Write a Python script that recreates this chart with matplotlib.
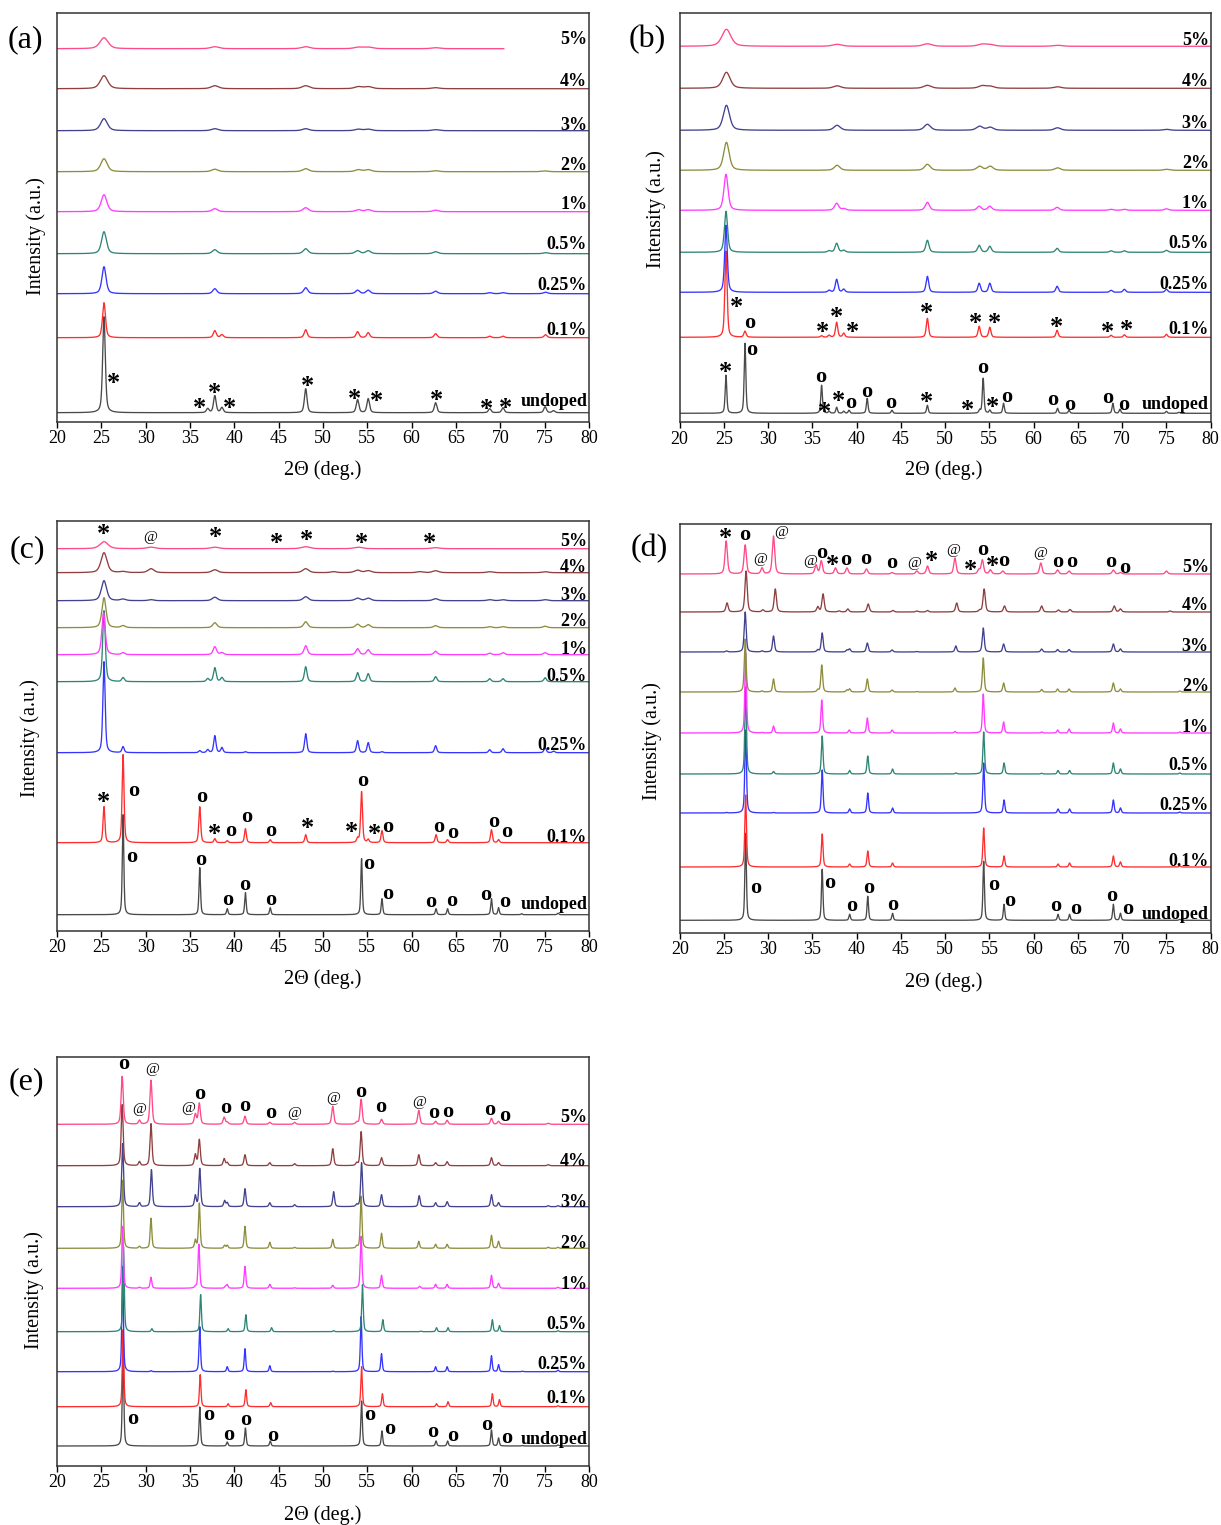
import numpy as np
import matplotlib
matplotlib.use('Agg')
import matplotlib.pyplot as plt

plt.rcParams['font.family'] = ['Liberation Serif', 'DejaVu Serif']

W, H = 1221, 1525

SERIES = ['undoped', '0.1%', '0.25%', '0.5%', '1%', '2%', '3%', '4%', '5%']
COLORS = ['#4a4a4a', '#ff2d2d', '#3535ff', '#2e8576', '#ff3cff',
          '#8d8d3e', '#42428e', '#8e4040', '#ff4a86']

# ---------------- panel (a) ----------------
A_OFFSET = [9, 84, 128, 168, 210, 250, 291, 333, 373]
A_LABEL_Y = [21.7, 93, 138, 179, 219, 258, 298, 342, 384]
A_FWHM = [0.35, 0.4, 0.55, 0.65, 0.75, 0.85, 0.9, 1.0, 1.1]
A_5_XMAX = 70.4
A_UNDOPED = [(25.3, 96), (37.0, 4), (37.8, 17), (38.6, 5), (48.05, 24), (53.9, 13), (55.1, 14),
             (62.7, 10), (68.8, 4), (70.3, 5), (75.05, 6), (76.0, 2)]
A_P01 = [(25.3, 35), (37.8, 7), (38.6, 3), (48.05, 8), (53.9, 6), (55.1, 5), (62.7, 4),
         (68.8, 1.5), (70.3, 1.5), (75.1, 3)]
A_P025 = [(25.3, 27), (37.8, 5), (48.05, 6), (53.9, 3.5), (55.1, 3.5), (62.7, 2.5),
          (68.8, 1), (70.3, 1), (75.1, 1.5)]
A_P05 = [(25.3, 22), (37.8, 4), (48.05, 5), (53.9, 3), (55.1, 3), (62.7, 2), (75.1, 1)]
A_P1 = [(25.3, 17), (37.8, 3), (48.05, 4), (54.0, 2), (55.1, 2), (62.7, 1.5)]
A_P2 = [(25.3, 13), (37.8, 2.5), (48.05, 3), (54.0, 2), (55.1, 2), (62.7, 1), (75.0, 0.8)]
A_P3 = [(25.3, 12), (37.8, 2), (48.05, 2), (54.0, 1.5), (55.1, 1.5), (62.7, 1)]
A_P4 = [(25.3, 13), (37.8, 3), (48.05, 3), (54.0, 2), (55.1, 2), (62.7, 1)]
A_P5 = [(25.3, 11), (37.8, 2), (48.05, 2), (54.0, 1.5), (55.1, 1.5), (62.7, 1)]
A_MARKS = [('*', 26.4, 43.3), ('*', 36.1, 18.3), ('*', 37.8, 33.3), ('*', 39.5, 18.3),
           ('*', 48.2, 41), ('*', 53.5, 27.3), ('*', 56.0, 25.7), ('*', 62.8, 26.7),
           ('*', 68.4, 17.7), ('*', 70.6, 19)]

# ---------------- panel (b) ----------------
B_OFFSET = [9, 85, 130, 170, 212, 252, 292, 334, 376]
B_LABEL_Y = [19, 94, 139, 180, 220, 260, 300, 342, 383]
B_FWHM = [0.22, 0.3, 0.35, 0.42, 0.55, 0.75, 0.85, 1.0, 1.2]
B_UNDOPED = [(25.25, 38), (27.4, 70), (36.05, 28), (36.9, 2), (37.75, 6), (38.55, 2), (39.15, 3),
             (41.2, 15), (44.0, 3), (48.0, 8), (53.9, 3), (54.3, 35), (55.05, 3), (56.6, 10),
             (62.7, 5), (64.0, 3), (68.95, 10), (69.75, 4), (75.0, 2), (76.4, 1)]
B_P01 = [(25.25, 86), (27.4, 6), (36.05, 1.5), (36.9, 2), (37.75, 15), (38.55, 4), (48.0, 19),
         (53.85, 11), (55.05, 10), (62.65, 7), (68.75, 2), (70.25, 2.5), (75.0, 3)]
B_P025 = [(25.25, 67), (36.9, 2), (37.75, 13), (38.55, 3), (48.0, 16), (53.85, 9), (55.05, 9),
          (62.65, 6), (68.75, 2), (70.25, 3), (75.0, 3)]
B_P05 = [(25.25, 41), (36.9, 1.5), (37.75, 9), (38.55, 2), (48.0, 12), (53.85, 7), (55.05, 6),
         (62.65, 4), (68.75, 1.5), (70.25, 1.5), (75.0, 2)]
B_P1 = [(25.25, 36), (37.75, 7), (38.55, 1.5), (48.0, 8), (53.85, 4), (55.05, 4), (62.65, 3),
        (68.75, 1), (70.25, 1), (75.0, 1.5)]
B_P2 = [(25.3, 28), (37.8, 5), (48.0, 6), (53.9, 4), (55.1, 4), (62.7, 2.5), (75.0, 1)]
B_P3 = [(25.3, 25), (37.8, 5), (48.0, 6), (53.9, 4), (55.1, 3), (62.7, 2.5), (75.0, 1)]
B_P4 = [(25.3, 16), (37.8, 2.5), (48.0, 3), (54.2, 2.5), (55.1, 2), (62.7, 1.5)]
B_P5 = [(25.3, 17), (37.8, 2), (48.0, 2.5), (54.2, 2), (55.1, 1.5), (62.7, 1)]
B_MARKS = [('*', 25.2, 55.7), ('o', 28.1, 72.3), ('o', 35.9, 45.7), ('*', 36.4, 15.7),
           ('*', 38.0, 26.7), ('o', 39.35, 19), ('o', 41.1, 30.7), ('o', 43.9, 19),
           ('*', 47.9, 25.7), ('*', 52.5, 17.3), ('o', 54.3, 54), ('*', 55.4, 20.7),
           ('o', 56.9, 25.7), ('o', 62.2, 22.3), ('o', 64.1, 17.3), ('o', 68.4, 24),
           ('o', 70.2, 17.3),
           ('*', 26.4, 120.7), ('o', 27.9, 99), ('*', 36.1, 95.7), ('*', 37.7, 110.7),
           ('*', 39.5, 95.7), ('*', 47.9, 114), ('*', 53.4, 104), ('*', 55.6, 104),
           ('*', 62.6, 100.7), ('*', 68.3, 95.7), ('*', 70.5, 97.3)]

# ---------------- panel (c) ----------------
C_OFFSET = [16, 88, 178, 249, 276, 303, 330, 358, 382]
C_LABEL_Y = [28, 95, 187, 256, 283, 311, 337, 365, 391]
C_FWHM = [0.2, 0.25, 0.3, 0.35, 0.45, 0.55, 0.7, 0.8, 1.1]
C_UNDOPED = [(27.45, 100), (36.1, 47), (39.2, 6), (41.25, 22), (44.05, 7), (54.35, 56), (56.65, 16),
             (62.75, 6), (64.05, 6), (69.0, 16), (69.8, 7), (72.4, 1), (76.5, 1.5)]
C_P01 = [(25.3, 36), (27.45, 88), (36.1, 36), (37.8, 4), (39.2, 2), (41.25, 14), (44.05, 3),
         (48.05, 8), (53.9, 4), (54.35, 51), (55.1, 3), (56.65, 12), (62.75, 8), (64.05, 3),
         (69.0, 13), (69.8, 3)]
C_P025 = [(25.3, 91), (27.45, 6), (36.1, 2), (37.0, 3), (37.8, 17), (38.6, 5), (41.25, 1),
          (48.05, 19), (53.9, 12), (55.1, 10), (56.65, 1), (62.7, 7), (68.8, 3), (70.3, 4),
          (75.05, 5), (76.0, 1.5)]
C_P05 = [(25.3, 71), (27.45, 4), (37.0, 3), (37.8, 14), (38.6, 4), (48.05, 15), (53.9, 9),
         (55.1, 8), (62.7, 5), (68.8, 3), (70.3, 3), (75.05, 4)]
C_P1 = [(25.25, 42), (27.45, 2), (37.8, 8), (38.6, 2), (48.05, 9), (53.9, 6), (55.1, 5),
        (62.7, 3.5), (68.8, 1.5), (70.3, 2), (75.05, 2)]
C_P2 = [(25.3, 30), (27.45, 2), (37.8, 5), (48.05, 6), (53.9, 3.5), (55.1, 3), (62.7, 2),
        (68.8, 1), (70.3, 1), (75.05, 1.5)]
C_P3 = [(25.3, 20), (27.45, 1.5), (30.6, 1), (37.8, 3.5), (48.05, 4), (53.9, 2.5), (55.1, 2.5),
        (62.7, 2), (68.8, 1), (70.3, 1), (75.05, 1)]
C_P4 = [(25.3, 20), (27.45, 1), (30.6, 4), (37.8, 3), (48.05, 4), (51.2, 1), (53.9, 2.5),
        (55.1, 2), (60.9, 1), (62.7, 2), (68.8, 1), (75.05, 1)]
C_P5 = [(25.3, 7), (30.6, 1.5), (37.8, 1.5), (48.05, 2), (54.0, 1.5), (62.7, 1)]
C_MARKS = [('*', 25.2, 401.7), ('@', 30.5, 393.3), ('*', 37.9, 398.3), ('*', 44.8, 392.7),
           ('*', 48.1, 396), ('*', 54.3, 392.7), ('*', 62.0, 392.7),
           ('*', 25.3, 133.3), ('o', 28.6, 140), ('o', 36.3, 134), ('*', 37.8, 101.7),
           ('o', 39.6, 100), ('o', 41.4, 113.3), ('o', 44.1, 100), ('*', 48.2, 107.3),
           ('*', 53.2, 103.3), ('o', 54.5, 150), ('*', 55.8, 101.7), ('o', 57.3, 104),
           ('o', 63.0, 104), ('o', 64.6, 97.3), ('o', 69.3, 108.3), ('o', 70.7, 98.3),
           ('o', 28.4, 74), ('o', 36.2, 70.7), ('o', 39.3, 30.7), ('o', 41.2, 46),
           ('o', 44.1, 30.7), ('o', 55.1, 66.7), ('o', 57.3, 36.7), ('o', 62.2, 28.3),
           ('o', 64.5, 30), ('o', 68.3, 36), ('o', 70.5, 28.3)]

# ---------------- panel (d) ----------------
D_OFFSET = [12.7, 66, 120, 159, 200, 241, 281, 321, 359]
D_LABEL_Y = [20, 73, 129, 169, 207, 248, 288, 329, 367]
D_FWHM = [0.2, 0.22, 0.22, 0.22, 0.22, 0.24, 0.26, 0.3, 0.32]
D_UNDOPED = [(27.45, 87), (36.1, 51), (39.2, 6), (41.25, 24), (44.05, 7), (54.35, 59), (56.65, 16),
             (62.75, 6), (64.05, 6), (69.0, 16), (69.8, 7), (76.5, 1)]
D_P01 = [(27.45, 72), (36.1, 33), (39.2, 3), (41.25, 16), (44.05, 4), (54.35, 39), (56.65, 11),
         (62.75, 3), (64.05, 4), (69.0, 11), (69.8, 5), (76.5, 1)]
D_P025 = [(25.3, 0.5), (27.45, 83), (30.6, 0.5), (36.1, 43), (39.2, 4), (41.25, 20), (44.05, 5),
          (54.35, 50), (56.65, 13), (62.75, 4), (64.05, 4), (69.0, 13), (69.8, 5), (76.5, 1)]
D_P05 = [(27.45, 87), (30.6, 2.5), (36.1, 38), (39.2, 3.5), (41.25, 18), (44.05, 5), (51.2, 1),
         (54.35, 42), (56.65, 11), (60.9, 0.7), (62.75, 3.5), (64.05, 3.5), (69.0, 11), (69.8, 5),
         (76.5, 1)]
D_P1 = [(27.45, 80), (29.3, 0.5), (30.6, 7), (36.05, 33), (39.15, 3), (41.2, 15), (44.0, 3),
        (51.1, 1.5), (54.3, 39), (56.6, 11), (60.9, 1), (62.7, 3), (64.0, 4), (69.0, 10),
        (69.8, 4), (76.5, 1)]
D_P2 = [(27.4, 53), (29.3, 1), (30.6, 13), (35.6, 2), (36.05, 27), (38.9, 2), (39.2, 3),
        (41.2, 13), (44.0, 2), (46.8, 0.5), (51.1, 4), (54.3, 34), (56.6, 9), (60.9, 2.5),
        (62.7, 3), (64.0, 3), (69.0, 9), (69.8, 3), (76.5, 1)]
D_P3 = [(25.3, 1), (27.4, 40), (29.3, 1), (30.6, 16), (35.6, 2), (36.1, 19), (38.9, 2), (39.2, 3),
        (41.2, 9), (44.0, 2), (46.8, 0.5), (51.2, 6), (54.3, 24), (56.6, 8), (60.9, 3),
        (62.7, 2.5), (64.0, 2.5), (69.0, 8), (69.8, 3)]
D_P4 = [(25.35, 9), (27.5, 41), (29.4, 2), (30.8, 23), (35.6, 5), (36.2, 18), (38.0, 1), (39.0, 3),
        (41.3, 8), (44.1, 1.5), (46.8, 1), (48.0, 1.5), (51.3, 9), (53.9, 1.5), (54.4, 23),
        (56.7, 6), (60.9, 6), (62.8, 2), (64.1, 2.5), (69.1, 6), (69.8, 3), (75.4, 1)]
D_P5 = [(25.25, 33), (27.4, 29), (29.3, 6), (30.6, 38), (35.4, 9), (36.0, 13), (37.6, 6),
        (38.9, 6), (41.1, 5), (44.0, 1.5), (46.8, 3), (48.0, 8), (51.1, 16), (53.8, 4),
        (54.2, 14), (55.1, 4), (56.5, 3), (60.8, 11), (62.7, 4), (64.0, 3), (69.0, 4),
        (69.8, 1.5), (75.0, 3)]
D_MARKS = [('*', 25.2, 400), ('o', 27.3, 398.3), ('@', 31.5, 400.7), ('@', 29.1, 374),
           ('@', 34.7, 371.7), ('o', 36.1, 380), ('*', 37.3, 373.3), ('o', 38.8, 373.3),
           ('o', 41.0, 374), ('o', 44.0, 370), ('@', 46.5, 370), ('*', 48.4, 376.7),
           ('@', 50.9, 383.3), ('*', 52.9, 368.3), ('o', 54.2, 383.3), ('*', 55.3, 371.7),
           ('o', 56.6, 371.7), ('@', 60.7, 380), ('o', 62.7, 370.7), ('o', 64.3, 370.7),
           ('o', 68.7, 370.7), ('o', 70.3, 365),
           ('o', 28.6, 45), ('o', 37.0, 50), ('o', 39.4, 27.3), ('o', 41.3, 45),
           ('o', 44.1, 28.3), ('o', 55.5, 48.3), ('o', 57.3, 32.3), ('o', 62.5, 27.3),
           ('o', 64.8, 24), ('o', 68.8, 37.3), ('o', 70.6, 24)]

# ---------------- panel (e) ----------------
E_OFFSET = [20, 59.3, 94.3, 134.3, 177.7, 217.7, 259.3, 300.3, 341.7]
E_LABEL_Y = [28.3, 69.3, 102.7, 143.3, 183.3, 224.3, 265.3, 306, 350]
E_FWHM = [0.2, 0.2, 0.2, 0.2, 0.22, 0.22, 0.24, 0.26, 0.28]
E_UNDOPED = [(27.45, 96), (36.1, 39), (39.2, 4), (41.25, 18), (44.05, 5), (54.35, 45), (56.65, 15),
             (62.75, 5), (64.05, 5), (69.0, 16), (69.8, 8), (72.5, 0.5), (76.5, 1)]
E_P01 = [(27.45, 77), (36.15, 32), (39.3, 3), (41.3, 17), (44.1, 4), (54.35, 40), (56.7, 13),
         (62.8, 3), (64.1, 5), (69.1, 13), (69.9, 7), (76.5, 1)]
E_P025 = [(27.4, 105), (30.6, 1), (36.1, 45), (39.2, 5), (41.2, 23), (44.0, 6), (51.1, 0.5),
          (54.3, 55), (56.6, 18), (62.7, 5), (64.0, 5), (69.0, 16), (69.8, 7), (72.5, 0.5),
          (76.5, 1.5)]
E_P05 = [(27.5, 85), (30.7, 3), (36.2, 37), (39.3, 3), (41.3, 17), (44.2, 4), (51.2, 1),
         (54.45, 47), (56.75, 12), (61.0, 0.5), (62.8, 4), (64.1, 4), (69.1, 12), (69.9, 6),
         (76.5, 1)]
E_P1 = [(27.4, 62), (29.3, 1), (30.6, 11), (35.6, 1.5), (36.0, 44), (39.0, 2), (39.2, 3.5),
        (41.2, 22), (44.0, 4), (46.8, 0.5), (51.1, 3), (54.3, 52), (56.6, 13), (60.9, 2),
        (62.7, 4), (64.0, 4), (69.0, 13), (69.8, 5), (76.5, 1)]
E_P2 = [(27.4, 68), (29.3, 2), (30.6, 30), (35.6, 8), (36.05, 45), (38.9, 3), (39.2, 3),
        (41.2, 22), (44.0, 6), (46.8, 1), (51.1, 9), (53.8, 2), (54.3, 52), (56.6, 15),
        (60.8, 7), (62.7, 4), (64.0, 4), (69.0, 13), (69.8, 7), (75.4, 1), (76.5, 1)]
E_P3 = [(27.4, 63), (29.3, 4), (30.65, 37), (35.6, 11), (36.1, 38), (38.9, 6), (39.2, 4),
        (41.2, 18), (44.0, 4), (46.8, 2), (51.2, 15), (53.8, 2), (54.35, 44), (56.6, 12),
        (60.85, 11), (62.7, 4), (64.0, 5), (69.0, 12), (69.8, 4), (75.4, 1), (76.5, 1)]
E_P4 = [(27.35, 61), (29.3, 4), (30.6, 42), (35.6, 11), (36.05, 26), (38.85, 7), (39.2, 3),
        (41.2, 11), (44.0, 3), (46.8, 2), (51.1, 17), (53.8, 2.5), (54.3, 34), (56.6, 8),
        (60.8, 11), (62.7, 3), (64.0, 4), (69.0, 8), (69.8, 3), (75.4, 1)]
E_P5 = [(27.35, 48), (29.3, 4), (30.6, 44), (35.6, 10), (36.05, 21), (38.85, 7), (39.2, 2),
        (41.2, 8), (44.0, 2), (46.8, 2), (51.1, 18), (53.8, 2), (54.3, 25), (56.6, 5),
        (60.8, 14), (62.7, 3), (64.0, 4), (69.0, 6), (69.8, 3), (75.4, 1)]
E_MARKS = [('o', 27.5, 402), ('@', 30.7, 396.7), ('@', 29.3, 356.7), ('@', 34.8, 357.7),
           ('o', 36.1, 372), ('o', 39.0, 357.7), ('o', 41.2, 360), ('o', 44.1, 352.7),
           ('@', 46.8, 352.7), ('@', 51.1, 367.7), ('o', 54.3, 374.3), ('o', 56.5, 359.3),
           ('@', 60.8, 364.3), ('o', 62.5, 353.3), ('o', 64.1, 354.3), ('o', 68.8, 356),
           ('o', 70.5, 350),
           ('o', 28.5, 46.7), ('o', 37.1, 51), ('o', 39.4, 31), ('o', 41.3, 46),
           ('o', 44.3, 30.3), ('o', 55.3, 51), ('o', 57.5, 36.7), ('o', 62.4, 33.7),
           ('o', 64.6, 30.3), ('o', 68.5, 41), ('o', 70.7, 28.3)]

X_TICKS = [20, 25, 30, 35, 40, 45, 50, 55, 60, 65, 70, 75, 80]

# panel boxes in pixels: left, right, top, bottom
PANELS = [
    dict(tag='(a)', box=(57, 589, 12.7, 421.7), tagpos=(25, 40), ylab=(36, 236), xlab=(323, 470),
         off=A_OFFSET, laby=A_LABEL_Y, fwhm=A_FWHM, marks=A_MARKS,
         peaks=[A_UNDOPED, A_P01, A_P025, A_P05, A_P1, A_P2, A_P3, A_P4, A_P5],
         xmax=[80] * 8 + [A_5_XMAX]),
    dict(tag='(b)', box=(679.5, 1210.7, 12.7, 422.3), tagpos=(647, 40), ylab=(656, 209), xlab=(944, 470),
         off=B_OFFSET, laby=B_LABEL_Y, fwhm=B_FWHM, marks=B_MARKS,
         peaks=[B_UNDOPED, B_P01, B_P025, B_P05, B_P1, B_P2, B_P3, B_P4, B_P5], xmax=[80] * 9),
    dict(tag='(c)', box=(57, 589, 520.7, 930.7), tagpos=(27, 550), ylab=(30, 738), xlab=(323, 979),
         off=C_OFFSET, laby=C_LABEL_Y, fwhm=C_FWHM, marks=C_MARKS,
         peaks=[C_UNDOPED, C_P01, C_P025, C_P05, C_P1, C_P2, C_P3, C_P4, C_P5], xmax=[80] * 9),
    dict(tag='(d)', box=(679.7, 1210.7, 524.3, 933), tagpos=(649, 549), ylab=(652, 741), xlab=(944, 982),
         off=D_OFFSET, laby=D_LABEL_Y, fwhm=D_FWHM, marks=D_MARKS,
         peaks=[D_UNDOPED, D_P01, D_P025, D_P05, D_P1, D_P2, D_P3, D_P4, D_P5], xmax=[80] * 9),
    dict(tag='(e)', box=(57, 589, 1056.7, 1466), tagpos=(26, 1082), ylab=(34, 1290), xlab=(323, 1515),
         off=E_OFFSET, laby=E_LABEL_Y, fwhm=E_FWHM, marks=E_MARKS,
         peaks=[E_UNDOPED, E_P01, E_P025, E_P05, E_P1, E_P2, E_P3, E_P4, E_P5], xmax=[80] * 9),
]

MARK_STYLE = {
    '*': dict(fontsize=19, fontweight='bold', drop=12.0),
    'o': dict(fontsize=16, fontweight='bold', drop=5.0),
    '@': dict(fontsize=11, fontweight='normal', drop=4.0),
}


def profile(x, peaks, fwhm):
    y = np.zeros_like(x)
    for pos, h in peaks:
        u = (x - pos) / fwhm
        lor = 1.0 / (1.0 + 4.0 * u * u)
        gau = np.exp(-4.0 * np.log(2.0) * u * u)
        y += h * (0.5 * lor + 0.5 * gau)
    return y


fig = plt.figure(figsize=(W / 100, H / 100), dpi=100)
x = np.arange(20.0, 80.0001, 0.01)

for p in PANELS:
    l, r, t, b = p['box']
    ax = fig.add_axes([l / W, 1 - b / H, (r - l) / W, (b - t) / H])
    height = b - t
    for i, name in enumerate(SERIES):
        m = x <= p['xmax'][i]
        y = p['off'][i] + profile(x[m], p['peaks'][i], p['fwhm'][i])
        ax.plot(x[m], y, color=COLORS[i], lw=0.95, zorder=2 + i * 0.01)
        ax.text(79.8, p['laby'][i] - 6.0, name, ha='right', va='baseline',
                fontsize=13, fontweight='bold', color='black', zorder=5)
    for sym, mx, my in p['marks']:
        st = MARK_STYLE[sym]
        ax.text(mx, my - st['drop'], sym, ha='center', va='baseline',
                fontsize=st['fontsize'], fontweight=st['fontweight'], color='black', zorder=6)
    ax.set_xlim(20, 80)
    ax.set_ylim(0, height)
    ax.set_xticks(X_TICKS)
    ax.set_yticks([])
    ax.tick_params(axis='x', direction='out', length=4, width=1, pad=2, labelsize=13)
    for s in ax.spines.values():
        s.set_linewidth(1.1)
        s.set_color('#333333')
    fig.text(p['tagpos'][0] / W, 1 - p['tagpos'][1] / H, p['tag'], fontsize=23,
             ha='center', va='center')
    fig.text(p['ylab'][0] / W, 1 - p['ylab'][1] / H, 'Intensity (a.u.)', fontsize=14.5,
             rotation=90, ha='center', va='center')
    fig.text(p['xlab'][0] / W, 1 - p['xlab'][1] / H, '2\u0398 (deg.)', fontsize=14.5,
             ha='center', va='center')

fig.savefig('out.png', dpi=100)
